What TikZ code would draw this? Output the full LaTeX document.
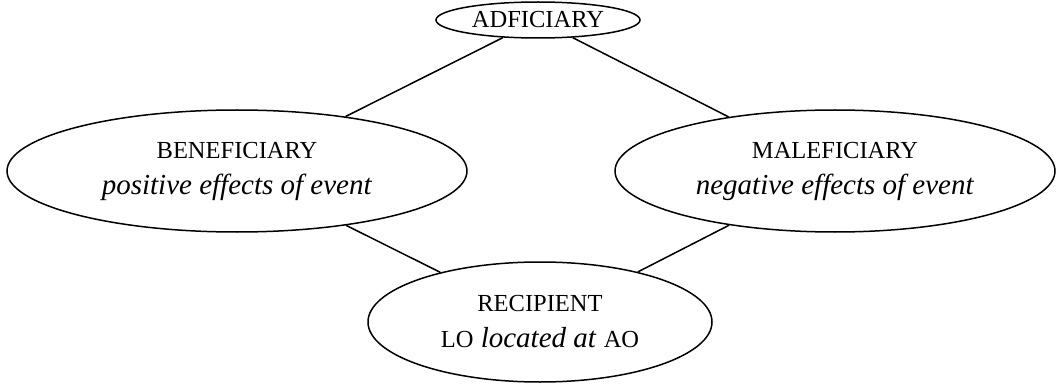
\documentclass[tikz,border=0pt]{standalone}
\usepackage{fontspec}
\setmainfont{Liberation Serif}
\usetikzlibrary{shapes.geometric}
\newcommand{\smcap}[1]{{\fontsize{24.5}{30}\selectfont #1}}
\begin{document}
\begin{tikzpicture}[x=1pt,y=-1pt,
  role/.style={draw,ellipse,line width=1.5pt,inner sep=0pt,align=center,
    font=\fontsize{29}{36}\selectfont},
  link/.style={line width=1.5pt}]
\useasboundingbox (0,0) rectangle (1061,385);
\node[role,minimum width=204,minimum height=36] (adf) at (538,20) {\smcap{ADFICIARY}};
\node[role,minimum width=460,minimum height=122] (ben) at (237,171)
  {\smcap{BENEFICIARY}\\\textit{positive effects of event}};
\node[role,minimum width=440,minimum height=122] (mal) at (835,171)
  {\smcap{MALEFICIARY}\\\textit{negative effects of event}};
\node[role,minimum width=344,minimum height=120] (rec) at (540,322)
  {\smcap{RECIPIENT}\\\smcap{LO} \textit{located at} \smcap{AO}};
\draw[link] (adf) -- (ben);
\draw[link] (adf) -- (mal);
\draw[link] (ben) -- (rec);
\draw[link] (mal) -- (rec);
\end{tikzpicture}
\end{document}
